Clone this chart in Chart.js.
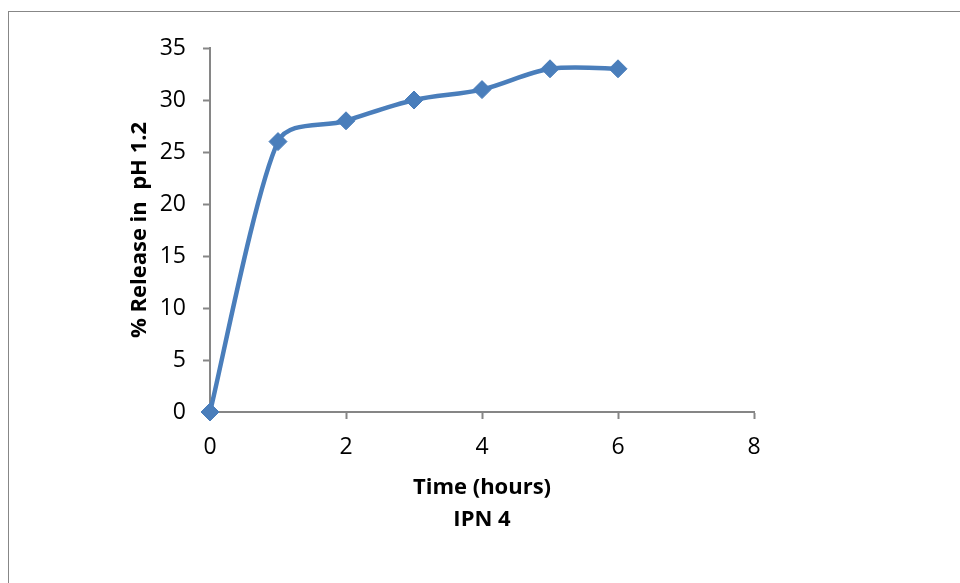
<!DOCTYPE html>
<html>
<head>
<meta charset="utf-8">
<script src="https://cdn.jsdelivr.net/npm/chart.js@4"></script>
<style>
  body { margin: 0; background: #fff; }
  #frame { position: absolute; left: 8px; top: 11px; width: 1000px; height: 700px;
           border-left: 1px solid #878787; border-top: 1px solid #878787; }
  canvas { position: absolute; left: 0; top: 0; }
</style>
</head>
<body>
<div id="frame"></div>
<canvas id="myChart" width="960" height="583"></canvas>
<script>
// dados
const horas = [0, 1, 2, 3, 4, 5, 6];
const liberacao = [0, 26, 28, 30, 31, 33, 33];
const ticksX = [0, 2, 4, 6, 8];
const ticksY = [0, 5, 10, 15, 20, 25, 30, 35];

const corSerie = '#4A7EBB';
const corEixo = '#868686';
const fonte = "'Open Sans', 'Noto Sans', sans-serif";

// curva suavizada parecida com a do Excel:
// tangente = (prox - ant) / 6, com o braço limitado a 1/3 do segmento
const suavizarExcel = {
  id: 'suavizarExcel',
  beforeDatasetDraw(chart, args) {
    const linha = args.meta.dataset;
    linha.updateControlPoints(chart.chartArea, 'x');
    const pts = args.meta.data;
    for (let i = 0; i < pts.length; i++) {
      const p = pts[i];
      const ant = pts[i - 1] || p;
      const prox = pts[i + 1] || p;
      const tx = (prox.x - ant.x) / 6;
      const ty = (prox.y - ant.y) / 6;
      const t = Math.hypot(tx, ty) || 1;
      const dAnt = Math.hypot(p.x - ant.x, p.y - ant.y) / 3;
      const dProx = Math.hypot(prox.x - p.x, prox.y - p.y) / 3;
      const kAnt = Math.min(1, dAnt / t);
      const kProx = Math.min(1, dProx / t);
      p.cp1x = p.x - tx * kAnt; p.cp1y = p.y - ty * kAnt;
      p.cp2x = p.x + tx * kProx; p.cp2y = p.y + ty * kProx;
    }
  }
};

const ctx = document.getElementById('myChart');

new Chart(ctx, {
  type: 'line',
  data: {
    datasets: [{
      label: 'IPN 4',
      data: horas.map((h, i) => ({ x: h, y: liberacao[i] })),
      borderColor: corSerie,
      backgroundColor: corSerie,
      borderWidth: 4.5,
      tension: 0.4,
      pointStyle: 'rectRot',
      pointRadius: 9,
      pointBorderWidth: 1,
      clip: false
    }]
  },
  options: {
    responsive: false,
    animation: false,
    layout: { padding: { left: 0, top: 48, right: 206, bottom: 0 } },
    plugins: { legend: { display: false }, tooltip: { enabled: false } },
    scales: {
      x: {
        type: 'linear',
        min: 0,
        max: 8,
        afterBuildTicks: s => { s.ticks = ticksX.map(v => ({ value: v })); },
        afterFit: s => { s.height = 171; },
        grid: { drawOnChartArea: false, tickLength: 7, tickColor: corEixo, tickWidth: 2 },
        border: { color: corEixo, width: 2 },
        ticks: { color: '#000', padding: 15, font: { family: fonte, size: 23 } },
        title: {
          display: true,
          text: ['Time (hours)', 'IPN 4'],
          color: '#000',
          font: { family: fonte, size: 22, weight: 'bold', lineHeight: 1.45 },
          padding: { top: 0, bottom: 47 }
        }
      },
      y: {
        min: 0,
        max: 35,
        afterBuildTicks: s => { s.ticks = ticksY.map(v => ({ value: v })); },
        afterFit: s => { s.width = 210; },
        grid: { drawOnChartArea: false, tickLength: 7, tickColor: corEixo, tickWidth: 2 },
        border: { color: corEixo, width: 2 },
        ticks: { color: '#000', padding: 17, font: { family: fonte, size: 23 } },
        title: {
          display: true,
          text: '% Release in  pH 1.2',
          color: '#000',
          font: { family: fonte, size: 22, weight: 'bold', lineHeight: 1.45 },
          padding: { top: 124, bottom: 0 }
        }
      }
    }
  },
  plugins: [suavizarExcel]
});
</script>
</body>
</html>
